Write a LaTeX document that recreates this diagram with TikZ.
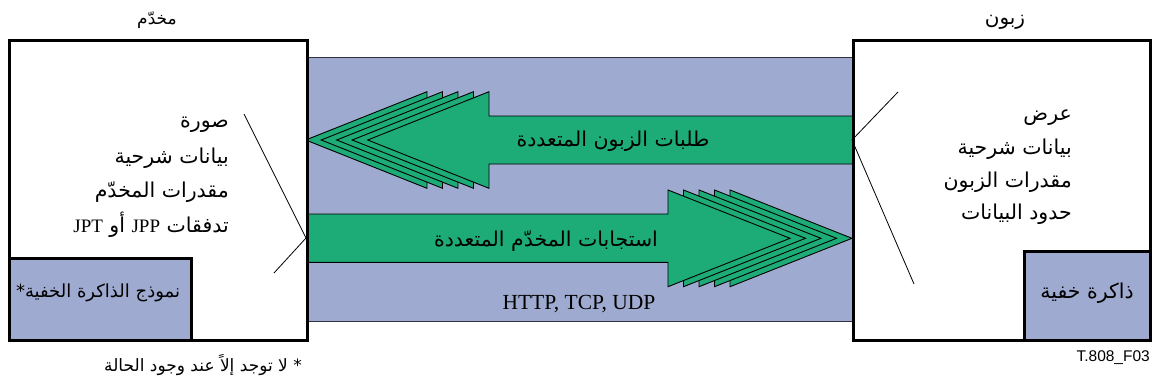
\documentclass[tikz,border=0pt]{standalone}
\usepackage{fontspec}
\setmainfont{Liberation Serif}
\setsansfont{Liberation Sans}
\newfontfamily\arabicfont[Script=Arabic]{DejaVu Sans}
\TeXXeTstate=1
\definecolor{bandblue}{RGB}{159,170,208}
\definecolor{arrowgreen}{RGB}{29,171,120}
\definecolor{edgegray}{RGB}{50,50,60}
\begin{document}
\begin{tikzpicture}[x=1pt,y=-1pt,
  box/.style={draw=black,line width=2.6pt,fill=white,inner sep=0pt,anchor=north west},
  cachebox/.style={draw=black,line width=2.6pt,fill=bandblue,inner sep=0pt,anchor=north west},
  bandbox/.style={fill=bandblue,inner sep=0pt,anchor=north west},
  bandedge/.style={draw=edgegray,line width=1pt},
  arrowlayer/.style={draw=black,line width=0.9pt,fill=arrowgreen,line join=miter},
  callout/.style={draw=black,line width=0.8pt},
  artext/.style={inner sep=0pt,font=\arabicfont\fontsize{20.5}{24}\selectfont},
  smalltext/.style={inner sep=0pt,font=\arabicfont\fontsize{17}{20}\selectfont},
  arrowtext/.style={inner sep=0pt,font=\arabicfont\fontsize{20.5}{24}\selectfont},
  lattext/.style={inner sep=0pt,font=\rmfamily\fontsize{21.5}{24}\selectfont},
  figid/.style={inner sep=0pt,font=\sffamily\fontsize{15.5}{18}\selectfont}]
\useasboundingbox (0,0) rectangle (1154,388);
% band
\node[bandbox,minimum width=546pt,minimum height=264pt] (band) at (306,57) {};
\draw[bandedge] (band.north west) -- (band.north east);
\draw[bandedge] (band.south west) -- (band.south east);
% upper arrow (client requests), pointing left
\foreach \i in {4,3,2,1} {
  \draw[arrowlayer,xshift=-15.5*\i] (489,91.7) -- (367.7,140) -- (489,188.3) -- cycle;
}
\draw[arrowlayer] (852,116) -- (489,116) -- (489,91.7) -- (367.7,140) -- (489,188.3) -- (489,164) -- (852,164);
\node[arrowtext] (req) at (613,141) {\beginR طلبات الزبون المتعددة\endR};
% lower arrow (server responses), pointing right
\foreach \i in {4,3,2,1} {
  \draw[arrowlayer,xshift=15.5*\i] (668,190) -- (790,238.3) -- (668,286.7) -- cycle;
}
\draw[arrowlayer] (306,214) -- (668,214) -- (668,190) -- (790,238.3) -- (668,286.7) -- (668,262.3) -- (306,262.3);
\node[arrowtext] (resp) at (546,241) {\beginR استجابات المخدّم المتعددة\endR};
\node[lattext] (proto) at (579,304) {HTTP, TCP, UDP};
% boxes
\node[box,minimum width=298pt,minimum height=300pt] (server) at (8,39) {};
\node[box,minimum width=297pt,minimum height=300pt] (client) at (852,39) {};
\node[cachebox,minimum width=182pt,minimum height=82pt] (scache) at (8,257) {};
\node[cachebox,minimum width=126pt,minimum height=89pt] (ccache) at (1023,250) {};
% titles
\node[smalltext] (stitle) at (157,20) {\beginR مخدّم\endR};
\node[smalltext,font=\arabicfont\fontsize{20}{24}\selectfont] (ctitle) at (1005,22) {\beginR زبون\endR};
% server text
\node[artext,anchor=east] (s1) at (229,125) {\beginR صورة\endR};
\node[artext,anchor=east] (s2) at (229,158) {\beginR بيانات شرحية\endR};
\node[artext,anchor=east] (s3) at (229,192) {\beginR مقدرات المخدّم\endR};
\node[artext,anchor=east] (s4) at (229,225) {\beginR تدفقات {\rmfamily\fontsize{19}{22}\selectfont JPP} أو {\rmfamily\fontsize{19}{22}\selectfont JPT}\endR};
% client text
\node[artext,anchor=east] (c1) at (1072,118) {\beginR عرض\endR};
\node[artext,anchor=east] (c2) at (1072,149) {\beginR بيانات شرحية\endR};
\node[artext,anchor=east] (c3) at (1072,182) {\beginR مقدرات الزبون\endR};
\node[artext,anchor=east] (c4) at (1072,214) {\beginR حدود البيانات\endR};
% cache labels
\node[smalltext,font=\arabicfont\fontsize{18}{22}\selectfont] (sc) at (98,293) {\beginR نموذج الذاكرة الخفية*\endR};
\node[artext] (cc) at (1087,293) {\beginR ذاكرة خفية\endR};
% callout lines
\coordinate (sapex) at (306,238);
\coordinate (stop) at (244,114);
\coordinate (sbot) at (274,273);
\draw[callout] (stop) -- (sapex) -- (sbot);
\coordinate (capex) at (852,140);
\coordinate (ctop) at (898,92);
\coordinate (cbot) at (914,284);
\draw[callout] (ctop) -- (capex) -- (cbot);
% footnote and id
\node[smalltext,anchor=east] (fn) at (302,365) {\beginR * لا توجد إلاً عند وجود الحالة\endR};
\node[figid,anchor=east] (fid) at (1150,358) {T.808\_F03};
\end{tikzpicture}
\end{document}
